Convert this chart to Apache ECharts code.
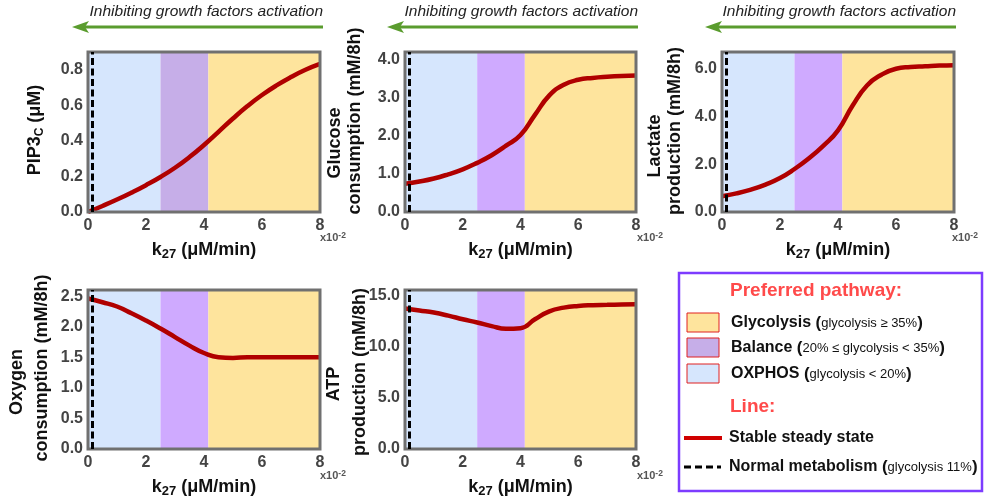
<!DOCTYPE html>
<html><head><meta charset="utf-8">
<script src="https://cdn.jsdelivr.net/npm/echarts@6/dist/echarts.min.js"></script>
<style>html,body{margin:0;padding:0;background:#fff}#c{width:984px;height:504px}</style>
</head><body><div id="c"></div>
<script>
// ---- data ----
const kValues = [0, 0.5, 1, 1.5, 2, 2.5, 3, 3.5, 4, 4.5, 5, 5.5, 6, 6.5, 7, 7.5, 8];
const pip3 = [0.0, 0.034, 0.070, 0.109, 0.151, 0.197, 0.249, 0.309, 0.377, 0.451, 0.526, 0.596, 0.658, 0.712, 0.759, 0.800, 0.833];
const glucose = [0.74, 0.8, 0.88, 0.99, 1.12, 1.29, 1.49, 1.74, 2.02, 2.55, 3.06, 3.34, 3.47, 3.52, 3.55, 3.57, 3.58];
const lactate = [0.66, 0.78, 0.94, 1.15, 1.42, 1.8, 2.25, 2.78, 3.42, 4.45, 5.3, 5.75, 6.0, 6.07, 6.1, 6.13, 6.15];
const oxygen = [2.46, 2.4, 2.33, 2.22, 2.1, 1.97, 1.83, 1.69, 1.57, 1.5, 1.49, 1.5, 1.5, 1.5, 1.5, 1.5, 1.5];
const atp = [13.7, 13.5, 13.3, 13.0, 12.65, 12.33, 11.98, 11.72, 11.78, 12.65, 13.42, 13.78, 13.95, 14.02, 14.05, 14.08, 14.1];
const xTicks = [0, 2, 4, 6, 8];
const oxphosBand = [0, 2.5];
const balanceBand = [2.5, 4.15];
const glycolysisBand = [4.15, 8];
const normalK = 0.15;
const yMaxes = [0.9, 4.2, 6.7, 2.6, 15.5];
const yIntervals = [0.2, 1, 2, 0.5, 5];
const arrowText = 'Inhibiting growth factors activation';
const xName = 'k{sub|27} (μM/min)';
const yNames = [
  ['{m|PIP3}{s|C}{m| (μM)}'],
  ['Glucose', 'consumption (mM/8h)'],
  ['Lactate', 'production (mM/8h)'],
  ['Oxygen', 'consumption (mM/8h)'],
  ['ATP', 'production (mM/8h)']
];
const legendPathways = [
  ['Glycolysis', 'glycolysis ≥ 35%'],
  ['Balance', '20% ≤ glycolysis < 35%'],
  ['OXPHOS', 'glycolysis < 20%']
];
const legendLines = [['Stable steady state', ''], ['Normal metabolism', 'glycolysis 11%']];

// ---- layout / style ----
const FONT = 'Liberation Sans, Arial, sans-serif';
const grids = [
  {left: 88, top: 52, width: 232, height: 160},
  {left: 405, top: 52, width: 231, height: 160},
  {left: 722, top: 52, width: 232, height: 160},
  {left: 88, top: 290, width: 232, height: 159},
  {left: 405, top: 290, width: 231, height: 159}
];
const seriesData = [pip3, glucose, lactate, oxygen, atp];
const C_OX = '#d6e6fd', C_GLY = '#fee49d', C_BAL1 = '#c6aee8', C_BAL = '#cfaaff';
const bandColors = (i) => [C_OX, i === 0 ? C_BAL1 : C_BAL, C_GLY];

const option = {
  animation: false,
  backgroundColor: '#fff',
  grid: grids.map(g => Object.assign({show: true, borderColor: '#707070', borderWidth: 3, backgroundColor: 'transparent', z: 5}, g)),
  xAxis: grids.map((g, i) => ({
    type: 'value', gridIndex: i, min: xTicks[0], max: xTicks[xTicks.length - 1], interval: xTicks[1] - xTicks[0],
    axisLine: {show: false}, axisTick: {show: false}, splitLine: {show: false},
    axisLabel: {margin: 6, color: '#444', fontWeight: 'bold', fontSize: 16, fontFamily: FONT},
    name: xName, nameLocation: 'middle', nameGap: 27,
    nameTextStyle: {color: '#111', fontWeight: 'bold', fontSize: 18, fontFamily: FONT, lineHeight: 22,
      rich: {sub: {fontSize: 13, fontWeight: 'bold', fontFamily: FONT, color: '#111', lineHeight: 12, verticalAlign: 'bottom'}}}
  })),
  yAxis: grids.map((g, i) => ({
    type: 'value', gridIndex: i, min: 0, max: yMaxes[i], interval: yIntervals[i],
    axisLine: {show: false}, axisTick: {show: false}, splitLine: {show: false},
    axisLabel: {margin: 5, color: '#444', fontWeight: 'bold', fontSize: 16, fontFamily: FONT,
      showMaxLabel: false, formatter: v => v.toFixed(1)}
  })),
  series: seriesData.map((vals, i) => {
    const bc = bandColors(i);
    return {
      type: 'line', xAxisIndex: i, yAxisIndex: i,
      data: kValues.map((k, j) => [k, vals[j]]),
      showSymbol: false, smooth: 0.5, silent: true,
      lineStyle: {color: '#b00000', width: 4.5},
      markArea: {silent: true, data: [
        [{xAxis: oxphosBand[0], itemStyle: {color: bc[0]}}, {xAxis: oxphosBand[1]}],
        [{xAxis: balanceBand[0], itemStyle: {color: bc[1]}}, {xAxis: balanceBand[1]}],
        [{xAxis: glycolysisBand[0], itemStyle: {color: bc[2]}}, {xAxis: glycolysisBand[1]}]
      ]},
      markLine: {silent: true, symbol: ['none', 'none'], label: {show: false},
        lineStyle: {color: '#000', width: 3, type: [7, 3.5]},
        data: [{xAxis: normalK}]}
    };
  }),
  graphic: []
};

const G = option.graphic;
const GREEN = '#5a9c2e';
// arrows on top row
[[72, 323], [387, 638], [705, 956]].forEach(([x0, x1]) => {
  G.push({type: 'line', shape: {x1: x0 + 12, y1: 27, x2: x1, y2: 27}, style: {stroke: GREEN, lineWidth: 3}});
  G.push({type: 'polygon', shape: {points: [[x0, 27], [x0 + 17, 21], [x0 + 13, 27], [x0 + 17, 33]]}, style: {fill: GREEN}});
  G.push({type: 'text', x: x1, y: 12, style: {text: arrowText, align: 'right', verticalAlign: 'middle',
    font: 'italic 15.5px ' + FONT, fill: '#222'}});
});
// y axis names
const yNamePos = [
  [[35, 130]],
  [[335.5, 143], [355, 121]],
  [[655, 146], [675, 131]],
  [[17, 382], [42, 368]],
  [[334, 384], [360, 372]]
];
yNames.forEach((lines, i) => {
  lines.forEach((t, j) => {
    const [x, y] = yNamePos[i][j];
    G.push({type: 'text', x, y, rotation: Math.PI / 2, style: {
      text: t, align: 'center', verticalAlign: 'middle', font: 'bold 18px ' + FONT, fill: '#111',
      rich: {m: {fontSize: 18, fontWeight: 'bold', fontFamily: FONT, fill: '#111', lineHeight: 22},
             s: {fontSize: 12, fontWeight: 'bold', fontFamily: FONT, fill: '#111', lineHeight: 12, verticalAlign: 'bottom'}}
    }});
  });
});
// x10^-2 marks
[[320, 238], [637, 238], [952, 238], [320, 476], [637, 476]].forEach(([x, y]) => {
  G.push({type: 'text', x, y, style: {text: '{a|x10}{b|-2}', align: 'left', verticalAlign: 'middle',
    rich: {a: {fontSize: 11, fontWeight: 'bold', fontFamily: FONT, fill: '#555', lineHeight: 14},
           b: {fontSize: 8.5, fontWeight: 'bold', fontFamily: FONT, fill: '#555', lineHeight: 8, verticalAlign: 'top'}}}});
});
// legend box
G.push({type: 'rect', shape: {x: 679, y: 273, width: 303, height: 218}, style: {fill: '#fff', stroke: '#7d3cff', lineWidth: 2.5}});
const RED_T = '#ff4a4a';
G.push({type: 'text', x: 730, y: 291, style: {text: 'Preferred pathway:', align: 'left', verticalAlign: 'middle', font: 'bold 19px ' + FONT, fill: RED_T}});
const richLeg = {
  b: {fontSize: 16, fontWeight: 'bold', fontFamily: FONT, fill: '#111'},
  p: {fontSize: 17, fontWeight: 'bold', fontFamily: FONT, fill: '#111'},
  s: {fontSize: 13, fontWeight: 'normal', fontFamily: FONT, fill: '#111'}
};
const legFill = [C_GLY, C_BAL1, C_OX];
const legY = [323, 348, 374];
legendPathways.forEach(([name, desc], i) => {
  G.push({type: 'rect', shape: {x: 687, y: legY[i] - 10, width: 32, height: 19}, style: {fill: legFill[i], stroke: '#e02020', lineWidth: 1}});
  G.push({type: 'text', x: 731, y: legY[i], style: {text: '{b|' + name + ' }{p|(}{s|' + desc + '}{p|)}', align: 'left', verticalAlign: 'middle', rich: richLeg}});
});
G.push({type: 'text', x: 730, y: 407, style: {text: 'Line:', align: 'left', verticalAlign: 'middle', font: 'bold 19px ' + FONT, fill: RED_T}});
G.push({type: 'line', shape: {x1: 684, y1: 438, x2: 722, y2: 438}, style: {stroke: '#d00000', lineWidth: 4}});
G.push({type: 'line', shape: {x1: 684, y1: 467, x2: 721, y2: 467}, style: {stroke: '#000', lineWidth: 3, lineDash: [7, 4]}});
legendLines.forEach(([name, desc], i) => {
  const t = desc ? '{b|' + name + ' }{p|(}{s|' + desc + '}{p|)}' : '{b|' + name + '}';
  G.push({type: 'text', x: 729, y: i === 0 ? 438 : 467, style: {text: t, align: 'left', verticalAlign: 'middle', rich: richLeg}});
});

const chart = echarts.init(document.getElementById('c'), null, {renderer: 'canvas'});
chart.setOption(option);
</script>
</body></html>
